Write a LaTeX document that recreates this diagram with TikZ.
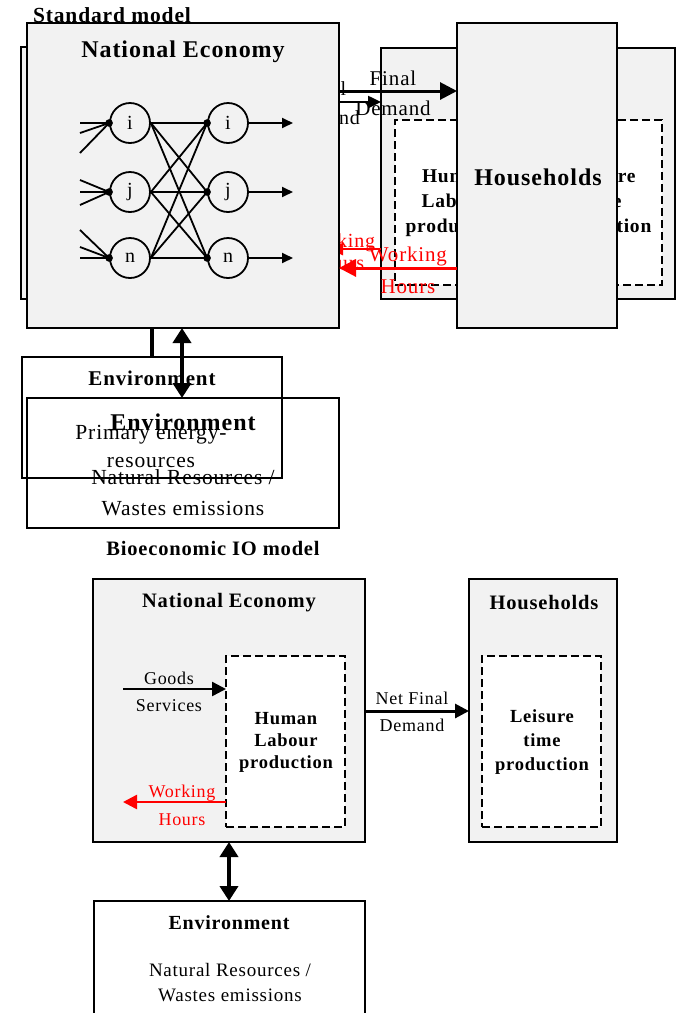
\documentclass[tikz,border=0pt]{standalone}
\usepackage{fontspec}
\setmainfont{Liberation Serif}[LetterSpace=4]
\usetikzlibrary{arrows.meta}
\definecolor{boxgray}{HTML}{F2F2F2}
\newcommand{\fsz}[2]{\fontsize{#1}{#2}\selectfont}
\begin{document}
\begin{tikzpicture}[x=1pt,y=-1pt,
  box/.style={draw=black, line width=2pt, fill=boxgray, inner sep=0pt, outer sep=0pt, anchor=north west},
  ebox/.style={draw=black, line width=2pt, inner sep=0pt, outer sep=0pt, anchor=north west},
  dbox/.style={draw=black, line width=2pt, dash pattern=on 8pt off 4pt, fill=white, inner sep=0pt, outer sep=0pt, anchor=north west},
  lbl/.style={inner sep=0pt, align=center},
  circ/.style={draw=black, line width=1.8pt, circle, minimum size=40pt, inner sep=0pt, font=\fsz{20}{22}},
  net/.style={line width=1.8pt},
  bigarr/.style={line width=3pt, -{Triangle[length=17pt,width=17pt]}},
  midarr/.style={line width=2.5pt, -{Triangle[length=14pt,width=14pt]}},
  dblarr/.style={line width=4.5pt, {Triangle[length=15pt,width=18pt]}-{Triangle[length=15pt,width=18pt]}}
]
\useasboundingbox (0,0) rectangle (677,1013);
\clip (0,0) rectangle (677,1013);
\fill[white] (0,0) rectangle (677,1013);

% ---------- hidden (back) layer of the standard model ----------
\node[lbl, font=\bfseries\fsz{21.5}{24}] (tstd) at (112,15) {Standard model};
\node[box, minimum width=309pt, minimum height=252pt] (hne) at (21,47) {};
\node[box, minimum width=294pt, minimum height=251pt] (hhh) at (381,48) {};
\node[dbox, minimum width=267pt, minimum height=165pt] (hdash) at (395,120) {};
\node[lbl, font=\bfseries\fsz{19.5}{25}] (hhl) at (455,203) {Human\\Labour\\production};
\node[lbl, font=\bfseries\fsz{19.5}{25}] (hlt) at (602,203) {Leisure\\time\\production};
\node[lbl, font=\fsz{20}{29}] (hfd) at (324,103) {Final\\Demand};
\draw[line width=2.5pt, -{Triangle[length=13pt,width=12pt]}] (hne.east |- 0,102) -- (hhh.west |- 0,102);
\node[lbl, font=\fsz{20}{22}, text=red] (hwh) at (338,252) {Working\\Hours};
\draw[red, line width=2.5pt, -{Triangle[length=13pt,width=12pt]}] (hhh.west |- 0,249) -- (hne.east |- 0,249);
\node[ebox, minimum width=260pt, minimum height=121pt] (henv) at (22,357) {};
\node[lbl, font=\bfseries\fsz{21}{24}] (henvt) at (152,378) {Environment};
\node[lbl, font=\fsz{21.5}{28}] (henvx) at (151,446) {Primary energy-\\resources};
\draw[line width=4.5pt] (hne.south -| 152,0) -- (henv.north -| 152,0);

% ---------- front layer of the standard model ----------
\node[box, minimum width=312pt, minimum height=305pt] (ne) at (27,23) {};
\node[lbl, font=\bfseries\fsz{24}{28}] (net) at (183,52) {National Economy};
\node[circ] (li) at (130,123) {i};
\node[circ] (lj) at (130,192) {j};
\node[circ] (ln) at (130,258) {n};
\node[circ] (ri) at (228,123) {i};
\node[circ] (rj) at (228,192) {j};
\node[circ] (rn) at (228,258) {n};
\foreach \n in {li,lj,ln,ri,rj,rn} \fill (\n.west) circle (3.8pt);
\coordinate (ia) at (80,123); \coordinate (ib) at (80,133); \coordinate (ic) at (80,153);
\coordinate (ja) at (80,180); \coordinate (jb) at (80,192); \coordinate (jc) at (80,205);
\coordinate (na) at (80,230); \coordinate (nb) at (80,247); \coordinate (nc) at (80,258);
\foreach \c in {ia,ib,ic} \draw[net] (\c) -- (li.west);
\foreach \c in {ja,jb,jc} \draw[net] (\c) -- (lj.west);
\foreach \c in {na,nb,nc} \draw[net] (\c) -- (ln.west);
\foreach \a in {li,lj,ln} \foreach \b in {ri,rj,rn} \draw[net] (\a.east) -- (\b.west);
\coordinate (oi) at (293,123); \coordinate (oj) at (293,192); \coordinate (on) at (293,258);
\draw[net, -{Triangle[length=11pt,width=10pt]}] (ri.east) -- (oi);
\draw[net, -{Triangle[length=11pt,width=10pt]}] (rj.east) -- (oj);
\draw[net, -{Triangle[length=11pt,width=10pt]}] (rn.east) -- (on);

\node[box, minimum width=160pt, minimum height=305pt] (hh) at (457,23) {};
\node[lbl, font=\bfseries\fsz{24}{28}] (hht) at (538,177) {Households};
\draw[bigarr] (ne.east |- 0,91) -- (hh.west |- 0,91);
\node[lbl, font=\fsz{21}{30}] (fd) at (393,93) {Final\\Demand};
\draw[bigarr, red] (hh.west |- 0,268) -- (ne.east |- 0,268);
\node[lbl, font=\fsz{21}{32}, text=red] (wh) at (408,270) {Working\\Hours};

\node[ebox, minimum width=312pt, minimum height=130pt] (env) at (27,398) {};
\node[lbl, font=\bfseries\fsz{24}{27}] (envt) at (183,422) {Environment};
\node[lbl, font=\fsz{21.5}{31}] (envx) at (183,493) {Natural Resources /\\Wastes emissions};
\draw[dblarr] (ne.south -| 182,0) -- (env.north -| 182,0);

% ---------- bioeconomic IO model ----------
\node[lbl, font=\bfseries\fsz{20.5}{24}] (tbio) at (213,548) {Bioeconomic IO model};
\node[box, minimum width=272pt, minimum height=263pt] (bne) at (93,579) {};
\node[lbl, font=\bfseries\fsz{20.5}{24}] (bnet) at (229,603) {National Economy};
\node[dbox, minimum width=119pt, minimum height=171pt] (bhl) at (226,656) {};
\node[lbl, font=\bfseries\fsz{18.5}{22}] (bhlt) at (286,742) {Human\\Labour\\production};
\coordinate (gs) at (123,689);
\draw[midarr] (gs) -- (bhl.west |- gs);
\node[lbl, font=\fsz{18}{27}] (gst) at (169,692) {Goods\\Services};
\coordinate (bw) at (123,802);
\draw[midarr, red] (bhl.west |- bw) -- (bw);
\node[lbl, font=\fsz{18}{28}, text=red] (bwt) at (182,805) {Working\\Hours};

\node[box, minimum width=148pt, minimum height=263pt] (bhh) at (469,579) {};
\node[lbl, font=\bfseries\fsz{20.5}{24}] (bhht) at (544,603) {Households};
\node[dbox, minimum width=119pt, minimum height=171pt] (blt) at (482,656) {};
\node[lbl, font=\bfseries\fsz{18.5}{24}] (bltt) at (542,742) {Leisure\\time\\production};
\draw[midarr, line width=3pt] (bne.east |- 0,711) -- (bhh.west |- 0,711);
\node[lbl, font=\fsz{18}{27}] (nfd) at (412,712) {Net Final\\Demand};

\node[ebox, minimum width=271pt, minimum height=150pt] (benv) at (94,901) {};
\node[lbl, font=\bfseries\fsz{20}{23}] (benvt) at (229,923) {Environment};
\node[lbl, font=\fsz{19}{25}] (benvx) at (230,983) {Natural Resources /\\Wastes emissions};
\draw[dblarr] (bne.south -| 229,0) -- (benv.north -| 229,0);
\end{tikzpicture}
\end{document}
